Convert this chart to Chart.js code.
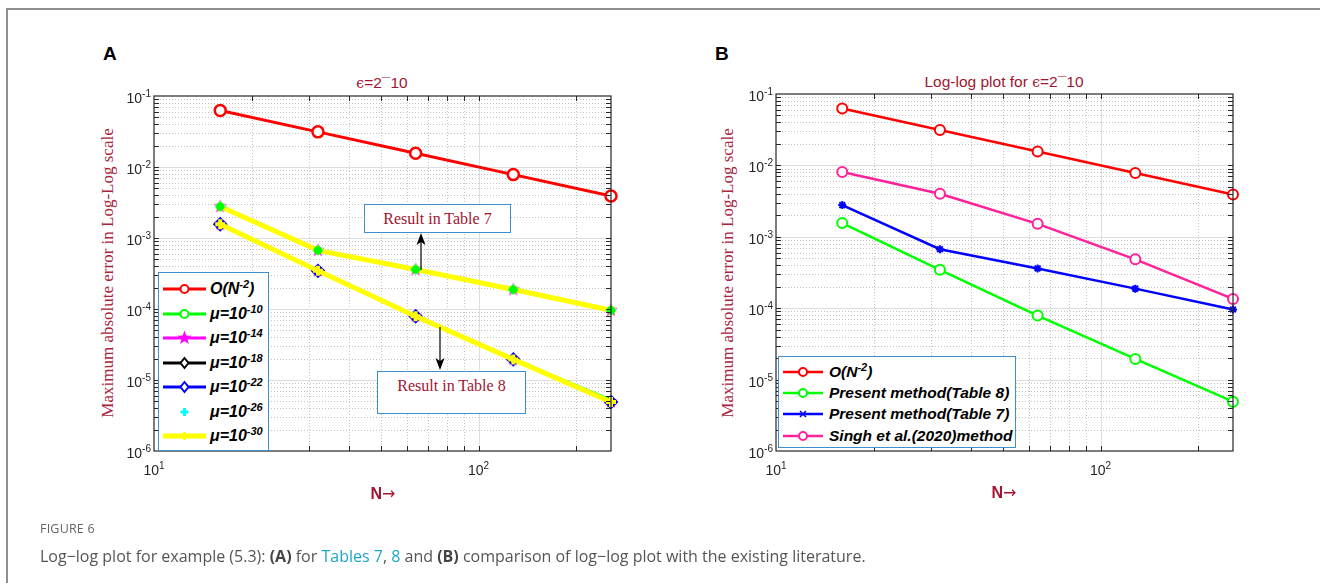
<!DOCTYPE html>
<html lang="en">
<head>
<meta charset="UTF-8">
<title>Figure 6 - Log-log plot</title>
<script src="https://cdn.jsdelivr.net/npm/chart.js"></script>
<style>
    html, body { margin: 0; padding: 0; background: #fff; }
    #page {
        position: relative;
        width: 1320px;
        height: 583px;
        overflow: hidden;
        font-family: 'Liberation Sans', Arial, sans-serif;
    }
    .frame-top { position: absolute; left: 6px; top: 8px; width: 1314px; height: 2px; background: #8f8f8f; }
    .frame-left { position: absolute; left: 6px; top: 8px; width: 2px; height: 575px; background: #8f8f8f; }
    .panel { position: absolute; top: 43px; font: bold 19px 'Liberation Sans', Arial, sans-serif; color: #000; }
    .plot-title {
        position: absolute;
        font-size: 15.5px;
        color: #a2142f;
        transform: translate(-50%, -50%);
        white-space: nowrap;
    }
    .eps { font-family: 'DejaVu Serif', serif; font-size: 14px; }
    .ylab {
        position: absolute;
        font: 17px 'Liberation Serif', serif;
        color: #a8243f;
        transform: translate(-50%, -50%) rotate(-90deg);
        white-space: nowrap;
    }
    .xlab {
        position: absolute;
        font: bold 16px 'Liberation Sans', Arial, sans-serif;
        color: #a2142f;
        transform: translate(-50%, -50%);
        white-space: nowrap;
    }
    .xlab .arr { font: 16px 'DejaVu Sans', sans-serif; }
    .wrap { position: absolute; width: 580px; height: 460px; }
    .note {
        position: absolute;
        box-sizing: border-box;
        border: 1px solid #3d8fce;
        background: #fff;
        font: 16px 'Liberation Serif', serif;
        color: #a2142f;
        text-align: center;
        white-space: nowrap;
    }
    .legend {
        position: absolute;
        box-sizing: border-box;
        border: 1px solid #3d8fce;
        background: #fff;
    }
    .legend .row { position: absolute; left: 0; height: 18px; width: 100%; }
    .legend svg { position: absolute; top: 2px; }
    .legend .txt {
        position: absolute;
        top: 0;
        line-height: 18px;
        font: italic bold 15.5px 'Liberation Sans', Arial, sans-serif;
        color: #000;
        white-space: nowrap;
    }
    #legendA .txt { font-size: 16px; }
    .legend sup { font-size: 11px; vertical-align: 6px; line-height: 0; }
    #arrows { position: absolute; left: 0; top: 0; pointer-events: none; }
    .fig-label {
        position: absolute; left: 40px; top: 520px;
        font: 12.5px 'Open Sans', sans-serif; color: #666; letter-spacing: 0.2px;
    }
    .caption {
        position: absolute; left: 40px; top: 545px;
        font: 16px 'Open Sans', sans-serif; color: #555; white-space: nowrap;
    }
    .caption b { color: #444; }
    .caption .lnk { color: #1ba6c8; }
</style>
</head>
<body>
<div id="page">
    <div class="frame-top"></div>
    <div class="frame-left"></div>

    <div class="panel" style="left:103px">A</div>
    <div class="panel" style="left:715px">B</div>

    <div class="plot-title" style="left:382px; top:83px"><span class="eps">ϵ</span>=2¯10</div>
    <div class="plot-title" style="left:1004px; top:82px">Log-log plot for <span class="eps">ϵ</span>=2¯10</div>

    <div class="ylab" style="left:108px; top:273px">Maximum absolute error in Log-Log scale</div>
    <div class="ylab" style="left:728px; top:273px">Maximum absolute error in Log-Log scale</div>

    <div class="wrap" style="left:60px; top:56px"><canvas id="chartA" width="580" height="460"></canvas></div>
    <div class="wrap" style="left:680px; top:56px"><canvas id="chartB" width="580" height="460"></canvas></div>

    <div class="xlab" style="left:383px; top:493px">N<span class="arr">&rarr;</span></div>
    <div class="xlab" style="left:1004px; top:492px">N<span class="arr">&rarr;</span></div>

    <div class="note" style="left:364px; top:204px; width:147px; height:29px; line-height:27px">Result in Table 7</div>
    <div class="note" style="left:377px; top:371px; width:149px; height:43px; line-height:18px; padding-top:5px">Result in Table 8</div>

    <svg id="arrows" width="1320" height="583">
        <line x1="421" y1="270" x2="421" y2="240" stroke="#000" stroke-width="1.2"/>
        <polygon points="421,233 416.5,245 421,242 425.5,245" fill="#000"/>
        <line x1="440" y1="327" x2="440" y2="363" stroke="#000" stroke-width="1.2"/>
        <polygon points="440,370 435.5,358 440,361 444.5,358" fill="#000"/>
    </svg>

    <div class="legend" id="legendA" style="left:158px; top:272px; width:111px; height:179px"></div>
    <div class="legend" id="legendB" style="left:778px; top:356px; width:238px; height:92px"></div>

    <div class="fig-label">FIGURE 6</div>
    <div class="caption">Log&minus;log plot for example (5.3): <b>(A)</b> for <span class="lnk">Tables 7</span>, <span class="lnk">8</span> and <b>(B)</b> comparison of log&minus;log plot with the existing literature.</div>
</div>

<script>
    // Data
    const nValues = [16, 32, 64, 128, 256];
    const orderRef = [0.0625, 0.03125, 0.015625, 0.0078125, 0.00390625];
    const table7Err = [2.78e-3, 6.7e-4, 3.6e-4, 1.88e-4, 9.6e-5];
    const table8Err = [1.56e-3, 3.45e-4, 7.9e-5, 1.95e-5, 4.9e-6];
    const table8ErrMu10 = [1.58e-3, 3.5e-4, 8.0e-5, 2.0e-5, 5.3e-6];
    const singhErr = [8.1e-3, 4.0e-3, 1.52e-3, 4.84e-4, 1.35e-4];

    const muExps = ['-10', '-14', '-18', '-22', '-26', '-30'];
    const legendBLabels = ['O(N<sup>-2</sup>)', 'Present method(Table 8)', 'Present method(Table 7)', 'Singh et al.(2020)method'];

    const xTickValues = [10, 100];
    const xTickExps = ['1', '2'];
    const yTickValues = [1e-6, 1e-5, 1e-4, 1e-3, 1e-2, 1e-1];
    const yTickExps = ['-6', '-5', '-4', '-3', '-2', '-1'];

    const pts = vals => nValues.map((n, i) => ({ x: n, y: vals[i] }));

    // filled five point star, used as a point style
    function pentagram(color, r) {
        const c = document.createElement('canvas');
        const size = Math.ceil(r * 2) + 2;
        c.width = c.height = size;
        const g = c.getContext('2d');
        g.beginPath();
        for (let i = 0; i < 10; i++) {
            const rad = i % 2 ? r * 0.42 : r;
            const a = -Math.PI / 2 + i * Math.PI / 5;
            g.lineTo(size / 2 + rad * Math.cos(a), size / 2 + rad * Math.sin(a));
        }
        g.closePath();
        g.fillStyle = color;
        g.fill();
        return c;
    }
    const magentaStar = pentagram('#ff00ff', 7);

    function logValues(min, max, major) {
        const out = [];
        for (let e = Math.floor(Math.log10(min)); e <= Math.ceil(Math.log10(max)); e++) {
            for (let k = 1; k <= 9; k++) {
                if ((k === 1) !== major) continue;
                const v = k * Math.pow(10, e);
                if (v > min * 1.0001 && v < max * 0.9999) out.push(v);
            }
        }
        return out;
    }

    function drawPow(ctx, x, y, exp, align) {
        ctx.font = '14px "Liberation Sans", Arial, sans-serif';
        const w1 = ctx.measureText('10').width;
        ctx.font = '10px "Liberation Sans", Arial, sans-serif';
        const w2 = ctx.measureText(exp).width;
        const x0 = align === 'right' ? x - w1 - w2 : x - (w1 + w2) / 2;
        ctx.font = '14px "Liberation Sans", Arial, sans-serif';
        ctx.fillText('10', x0, y);
        ctx.font = '10px "Liberation Sans", Arial, sans-serif';
        ctx.fillText(exp, x0 + w1, y - 6);
    }

    // MATLAB style box, grid and ticks
    const matlabAxes = {
        id: 'matlabAxes',
        beforeDatasetsDraw(chart) {
            const { ctx, chartArea: a, scales: { x, y } } = chart;
            ctx.save();
            ctx.lineWidth = 1;
            ctx.strokeStyle = '#c4c4c4';
            ctx.setLineDash([1, 2]);
            logValues(x.min, x.max, false).forEach(v => {
                const p = Math.round(x.getPixelForValue(v)) + 0.5;
                ctx.beginPath(); ctx.moveTo(p, a.top); ctx.lineTo(p, a.bottom); ctx.stroke();
            });
            logValues(y.min, y.max, false).forEach(v => {
                const p = Math.round(y.getPixelForValue(v)) + 0.5;
                ctx.beginPath(); ctx.moveTo(a.left, p); ctx.lineTo(a.right, p); ctx.stroke();
            });
            ctx.setLineDash([]);
            ctx.strokeStyle = '#dedede';
            logValues(x.min, x.max, true).forEach(v => {
                const p = Math.round(x.getPixelForValue(v)) + 0.5;
                ctx.beginPath(); ctx.moveTo(p, a.top); ctx.lineTo(p, a.bottom); ctx.stroke();
            });
            logValues(y.min, y.max, true).forEach(v => {
                const p = Math.round(y.getPixelForValue(v)) + 0.5;
                ctx.beginPath(); ctx.moveTo(a.left, p); ctx.lineTo(a.right, p); ctx.stroke();
            });
            ctx.restore();
        },
        afterDraw(chart) {
            const { ctx, chartArea: a, scales: { x, y } } = chart;
            ctx.save();
            ctx.strokeStyle = '#262626';
            ctx.lineWidth = 1.2;
            ctx.strokeRect(a.left, a.top, a.right - a.left, a.bottom - a.top);
            ctx.lineWidth = 1;
            const tl = 5;
            logValues(x.min, x.max, false).concat(logValues(x.min, x.max, true)).forEach(v => {
                const p = Math.round(x.getPixelForValue(v)) + 0.5;
                ctx.beginPath();
                ctx.moveTo(p, a.bottom); ctx.lineTo(p, a.bottom - tl);
                ctx.moveTo(p, a.top); ctx.lineTo(p, a.top + tl);
                ctx.stroke();
            });
            logValues(y.min, y.max, false).concat(logValues(y.min, y.max, true)).forEach(v => {
                const p = Math.round(y.getPixelForValue(v)) + 0.5;
                ctx.beginPath();
                ctx.moveTo(a.left, p); ctx.lineTo(a.left + tl, p);
                ctx.moveTo(a.right, p); ctx.lineTo(a.right - tl, p);
                ctx.stroke();
            });
            ctx.fillStyle = '#262626';
            ctx.textBaseline = 'alphabetic';
            yTickValues.forEach((v, i) => {
                drawPow(ctx, a.left - 3, y.getPixelForValue(v) + 7, yTickExps[i], 'right');
            });
            xTickValues.forEach((v, i) => {
                drawPow(ctx, x.getPixelForValue(v), a.bottom + 24, xTickExps[i], 'center');
            });
            ctx.restore();
        }
    };

    function makeLogChart(id, datasets, box) {
        // datasets are listed bottom to top
        datasets.forEach((d, i) => { d.order = datasets.length - i; d.clip = false; });
        return new Chart(document.getElementById(id), {
            type: 'line',
            data: { datasets },
            options: {
                responsive: false,
                animation: false,
                events: [],
                layout: { padding: { top: box.top, right: box.right, left: 0, bottom: 0 } },
                plugins: { legend: { display: false }, tooltip: { enabled: false } },
                scales: {
                    x: {
                        type: 'logarithmic', min: 10, max: 256,
                        ticks: { display: false }, grid: { display: false }, border: { display: false },
                        afterFit: s => { s.height = box.bottom; }
                    },
                    y: {
                        type: 'logarithmic', min: 1e-6, max: 1e-1,
                        ticks: { display: false }, grid: { display: false }, border: { display: false },
                        afterFit: s => { s.width = box.left; }
                    }
                }
            },
            plugins: [matlabAxes]
        });
    }

    // Panel A
    makeLogChart('chartA', [
        { data: pts(table7Err), borderColor: '#ff00ff', borderWidth: 2, pointStyle: magentaStar },
        { data: pts(table8Err), borderColor: '#ff00ff', borderWidth: 2, pointStyle: magentaStar },
        { data: pts(table8Err), borderColor: '#000000', borderWidth: 2, pointStyle: 'rectRot', pointRadius: 5, pointBorderWidth: 2, pointBackgroundColor: 'rgba(0,0,0,0)', pointBorderColor: '#000' },
        { data: pts(table8Err), borderColor: '#0000ff', borderWidth: 2, pointStyle: 'rectRot', pointRadius: 6, pointBorderWidth: 2, pointBackgroundColor: 'rgba(0,0,0,0)', pointBorderColor: '#0000ff' },
        { data: pts(table8ErrMu10), borderColor: '#00ff00', borderWidth: 2, pointRadius: 0 },
        { data: pts(table7Err), borderColor: '#00ff00', borderWidth: 2, pointRadius: 0 },
        { data: pts(table7Err), borderColor: '#ffff00', borderWidth: 5, pointStyle: 'cross', pointRadius: 5, pointBorderWidth: 4, pointBorderColor: '#ffff00' },
        { data: pts(table8Err), borderColor: '#ffff00', borderWidth: 5, pointStyle: 'cross', pointRadius: 5, pointBorderWidth: 4, pointBorderColor: '#ffff00' },
        { data: pts(table7Err), showLine: false, pointStyle: 'cross', pointRadius: 5, pointBorderWidth: 2, pointBorderColor: '#00ffff' },
        { data: pts(table7Err), showLine: false, pointStyle: 'circle', pointRadius: 3.5, pointBorderWidth: 1.5, pointBorderColor: '#00ff00', pointBackgroundColor: '#00ff00' },
        { data: pts(orderRef), borderColor: '#ff0000', borderWidth: 3, pointStyle: 'circle', pointRadius: 5.5, pointBorderWidth: 2.5, pointBorderColor: '#ff0000', pointBackgroundColor: '#fff' }
    ], { left: 94, right: 29, top: 40, bottom: 65 });

    // Panel B
    makeLogChart('chartB', [
        { data: pts(table8Err), borderColor: '#00ff00', borderWidth: 2.5, pointStyle: 'circle', pointRadius: 5, pointBorderWidth: 2, pointBorderColor: '#00ff00', pointBackgroundColor: '#fff' },
        { data: pts(table7Err), borderColor: '#0000ff', borderWidth: 2.5, pointStyle: 'star', pointRadius: 4, pointBorderWidth: 2, pointBorderColor: '#0000ff' },
        { data: pts(singhErr), borderColor: '#ff2299', borderWidth: 2.5, pointStyle: 'circle', pointRadius: 5, pointBorderWidth: 2, pointBorderColor: '#ff2299', pointBackgroundColor: '#fff' },
        { data: pts(orderRef), borderColor: '#ff0000', borderWidth: 2.5, pointStyle: 'circle', pointRadius: 5, pointBorderWidth: 2, pointBorderColor: '#ff0000', pointBackgroundColor: '#fff' }
    ], { left: 96, right: 27, top: 38, bottom: 65 });

    // Legends
    function markerSvg(marker, cx, cy, color) {
        if (marker === 'circle') return `<circle cx="${cx}" cy="${cy}" r="4" fill="#fff" stroke="${color}" stroke-width="2"/>`;
        if (marker === 'pentagram') {
            let p = [];
            for (let i = 0; i < 10; i++) {
                const r = i % 2 ? 3 : 7.5, a = -Math.PI / 2 + i * Math.PI / 5;
                p.push((cx + r * Math.cos(a)).toFixed(1) + ',' + (cy + r * Math.sin(a)).toFixed(1));
            }
            return `<polygon points="${p.join(' ')}" fill="${color}"/>`;
        }
        if (marker === 'diamond') return `<polygon points="${cx},${cy - 5} ${cx + 4},${cy} ${cx},${cy + 5} ${cx - 4},${cy}" fill="#fff" stroke="${color}" stroke-width="2"/>`;
        if (marker === 'plus') return `<path d="M${cx - 4} ${cy}H${cx + 4}M${cx} ${cy - 4}V${cy + 4}" stroke="${color}" stroke-width="3"/>`;
        if (marker === 'asterisk') return `<path d="M${cx - 3} ${cy - 3}L${cx + 3} ${cy + 3}M${cx - 3} ${cy + 3}L${cx + 3} ${cy - 3}M${cx - 4} ${cy}H${cx + 4}" stroke="${color}" stroke-width="1.6"/>`;
        return '';
    }

    function buildLegend(el, entries, opt) {
        entries.forEach((e, i) => {
            const row = document.createElement('div');
            row.className = 'row';
            row.style.top = (opt.first + i * opt.step - 9) + 'px';
            const w = opt.sampleW, cy = 7;
            let svg = `<svg width="${w}" height="14" style="left:${opt.sampleX}px">`;
            if (e.line) svg += `<line x1="0" y1="${cy}" x2="${w}" y2="${cy}" stroke="${e.color}" stroke-width="${e.line}"/>`;
            svg += markerSvg(e.marker, w / 2, cy, e.color) + '</svg>';
            row.innerHTML = svg + `<span class="txt" style="left:${opt.textX}px">${e.label}</span>`;
            el.appendChild(row);
        });
    }

    const muStyles = [
        { color: '#00ff00', line: 3, marker: 'circle' },
        { color: '#ff00ff', line: 3, marker: 'pentagram' },
        { color: '#000000', line: 3, marker: 'diamond' },
        { color: '#0000ff', line: 3, marker: 'diamond' },
        { color: '#00ffff', line: 0, marker: 'plus' },
        { color: '#ffff00', line: 5, marker: 'plus' }
    ];
    buildLegend(document.getElementById('legendA'),
        [{ label: legendBLabels[0], color: '#ff0000', line: 3, marker: 'circle' }]
            .concat(muExps.map((ex, i) => Object.assign({ label: '&mu;=10<sup>' + ex + '</sup>' }, muStyles[i]))),
        { first: 16, step: 24.5, sampleX: 4, sampleW: 43, textX: 51 });

    const bStyles = [
        { color: '#ff0000', line: 2.5, marker: 'circle' },
        { color: '#00ff00', line: 2.5, marker: 'circle' },
        { color: '#0000ff', line: 2.5, marker: 'asterisk' },
        { color: '#ff2299', line: 2.5, marker: 'circle' }
    ];
    buildLegend(document.getElementById('legendB'),
        legendBLabels.map((l, i) => Object.assign({ label: l }, bStyles[i])),
        { first: 14.5, step: 21.4, sampleX: 4, sampleW: 40, textX: 50 });
</script>
</body>
</html>
